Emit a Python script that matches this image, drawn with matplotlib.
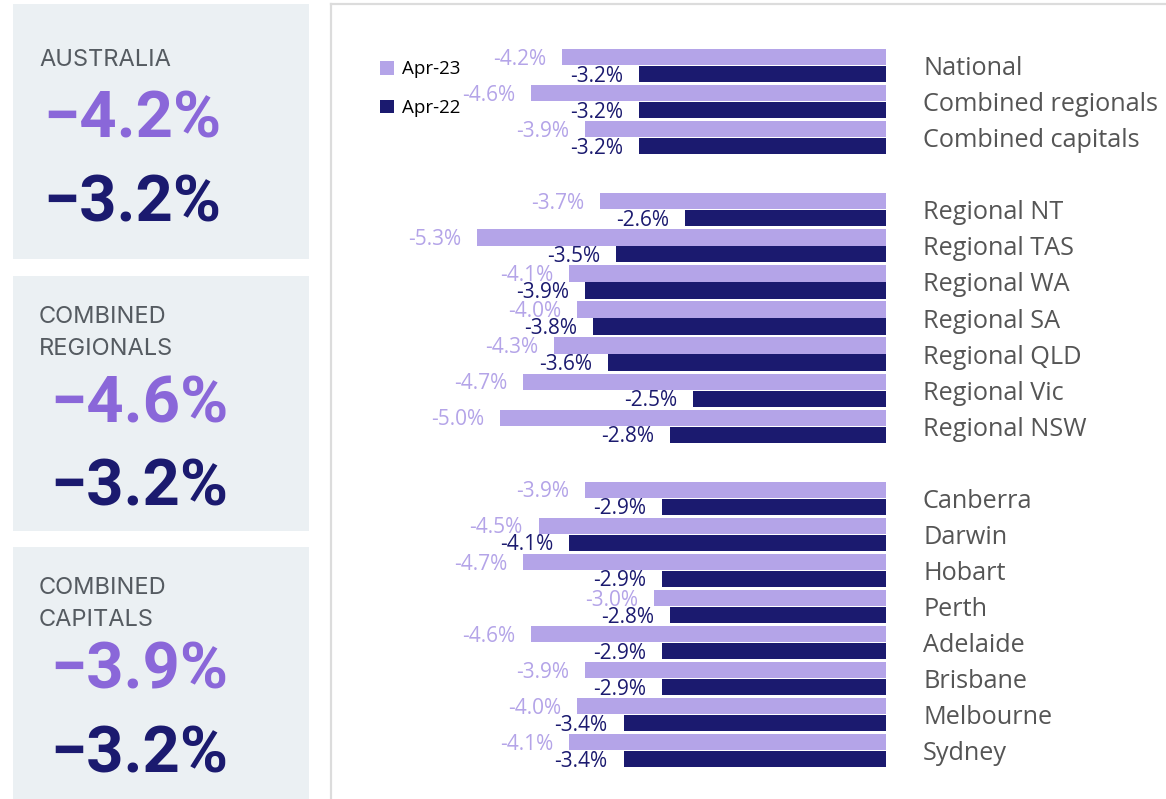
import matplotlib
matplotlib.use("Agg")
import matplotlib.pyplot as plt
from matplotlib.patches import Rectangle
from matplotlib.lines import Line2D

W, H = 1166, 799
DPI = 100

# ---------------- data ----------------
categories = ["National", "Combined regionals", "Combined capitals", None,
              "Regional NT", "Regional TAS", "Regional WA", "Regional SA",
              "Regional QLD", "Regional Vic", "Regional NSW", None,
              "Canberra", "Darwin", "Hobart", "Perth", "Adelaide",
              "Brisbane", "Melbourne", "Sydney"]
apr23 = [-4.2, -4.6, -3.9, None, -3.7, -5.3, -4.1, -4.0, -4.3, -4.7, -5.0, None,
         -3.9, -4.5, -4.7, -3.0, -4.6, -3.9, -4.0, -4.1]
apr22 = [-3.2, -3.2, -3.2, None, -2.6, -3.5, -3.9, -3.8, -3.6, -2.5, -2.8, None,
         -2.9, -4.1, -2.9, -2.8, -2.9, -2.9, -3.4, -3.4]
series_names = ["Apr-23", "Apr-22"]

panel_titles = ["AUSTRALIA", "COMBINED\nREGIONALS", "COMBINED\nCAPITALS"]
panel_apr23 = ["\u22124.2%", "\u22124.6%", "\u22123.9%"]
panel_apr22 = ["\u22123.2%", "\u22123.2%", "\u22123.2%"]

# ---------------- style ----------------
LIGHT = "#B4A4E8"
DARK = "#1B1A6F"
BIG_LIGHT = "#8A67D9"
BOX_BG = "#EBF0F3"
GREY_TXT = "#555B61"
LABEL_FONT = ["Open Sans", "DejaVu Sans"]
TITLE_FONT = ["Inter", "DejaVu Sans"]
BIG_FONT = ["Roboto", "DejaVu Sans"]

fig = plt.figure(figsize=(W / DPI, H / DPI), dpi=DPI)
fig.patch.set_facecolor("white")

def fx(px):
    return px / W

def fy(py):
    return 1 - py / H

# ---------------- left panels ----------------
boxes = [(4, 259), (276, 531), (547, 800)]
title_y = [[60], [317, 349], [588, 620.5]]
big1_y = [120, 405, 671]
big2_y = [203.5, 488, 755]
big_x = [45, 52, 52]
for i, (t, b) in enumerate(boxes):
    fig.patches.append(Rectangle((fx(13), fy(b)), fx(309) - fx(13), fy(t) - fy(b),
                                 transform=fig.transFigure, facecolor=BOX_BG,
                                 edgecolor="none", zorder=0))
    for line, yy in zip(panel_titles[i].split("\n"), title_y[i]):
        fig.text(fx(39), fy(yy), line, fontsize=17, color=GREY_TXT,
                 family=TITLE_FONT, ha="left", va="center")
    fig.text(fx(big_x[i] - 2), fy(big1_y[i]), panel_apr23[i], fontsize=47,
             fontweight="bold", color=BIG_LIGHT, family=BIG_FONT,
             ha="left", va="center")
    fig.text(fx(big_x[i] - 2), fy(big2_y[i]), panel_apr22[i], fontsize=47,
             fontweight="bold", color=DARK, family=BIG_FONT,
             ha="left", va="center")

# ---------------- chart frame ----------------
fig.add_artist(Line2D([fx(331), fx(331)], [fy(4), 0], transform=fig.transFigure,
                      color="#DCDCDC", lw=1.6))
fig.add_artist(Line2D([fx(331), 1], [fy(4), fy(4)], transform=fig.transFigure,
                      color="#DCDCDC", lw=1.6))

# ---------------- bar chart ----------------
PX_PER_UNIT = 77.2
ZERO_PX = 886
ROW0 = 65.6
PITCH = 36.06
ax = fig.add_axes([fx(332), 0, fx(ZERO_PX) - fx(332), 1])
ax.set_xlim(-(ZERO_PX - 332) / PX_PER_UNIT, 0)
ax.set_ylim((H - ROW0) / PITCH, -ROW0 / PITCH)
ax.patch.set_alpha(0)
for s in ax.spines.values():
    s.set_visible(False)
ax.set_xticks([])

idx = [i for i, c in enumerate(categories) if c is not None]
off = 0.235
hgt = 0.45
ax.barh([i - off for i in idx], [apr23[i] for i in idx], height=hgt,
        color=LIGHT, label=series_names[0])
ax.barh([i + off for i in idx], [apr22[i] for i in idx], height=hgt,
        color=DARK, label=series_names[1])

for i in idx:
    ax.annotate(f"-{abs(apr23[i]):.1f}%", (apr23[i], i - off),
                xytext=(-11.5, -1.5), textcoords="offset points",
                ha="right", va="center", fontsize=15, color=LIGHT,
                family=LABEL_FONT)
    ax.annotate(f"-{abs(apr22[i]):.1f}%", (apr22[i], i + off),
                xytext=(-11.5, -1.5), textcoords="offset points",
                ha="right", va="center", fontsize=15, color=DARK,
                fontweight="medium", family=LABEL_FONT)

ax.yaxis.tick_right()
ax.set_yticks(idx)
ax.set_yticklabels([categories[i] for i in idx], fontsize=18.2, color="#555555",
                   family=LABEL_FONT)
ax.tick_params(axis="y", length=0, pad=(923 - ZERO_PX) * 72 / DPI)

leg = ax.legend(loc="upper left", frameon=False,
                prop={"family": LABEL_FONT, "size": 13.5},
                handlelength=0.75, handleheight=0.75, handletextpad=0.45,
                labelspacing=1.1, borderaxespad=0)
leg.set_bbox_to_anchor((fx(372), fy(53)), transform=fig.transFigure)

fig.savefig("out.png", dpi=DPI, facecolor="white")
